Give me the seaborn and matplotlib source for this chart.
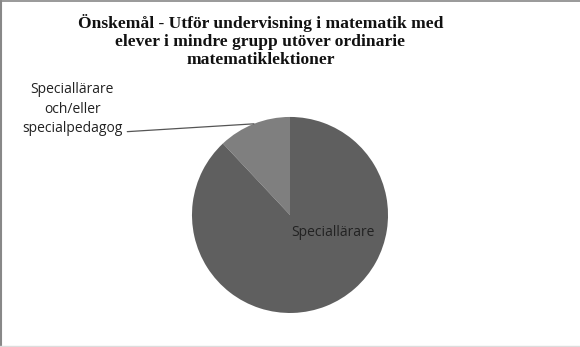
import numpy as np
import matplotlib
matplotlib.use("Agg")
import matplotlib.pyplot as plt
import seaborn as sns

# Share of answers per category
categories = ["Speciallärare och/eller\nspecialpedagog", "Speciallärare"]
values = [12, 88]
colors = ["#7f7f7f", "#5f5f5f"]
title = "Önskemål - Utför undervisning i matematik med\nelever i mindre grupp utöver ordinarie\nmatematiklektioner"

sns.set_theme(style="white")
plt.rcParams["font.family"] = ["Open Sans", "DejaVu Sans"]

fig = plt.figure(figsize=(5.8, 3.47), dpi=100)
fig.patch.set_facecolor("white")

ax = fig.add_axes([0.331, 0.098, 0.338, 0.565])
wedges, _ = ax.pie(values, colors=colors, startangle=90, counterclock=True,
                   radius=1.0, wedgeprops=dict(linewidth=0))
ax.set_xlim(-1, 1)
ax.set_ylim(-1, 1)
ax.set_aspect("equal")
ax.axis("off")

# Label inside the large wedge
ax.text(0.44, -0.18, "Speciallärare", ha="center", va="center",
        fontsize=10, color="#222222")

# Outside label with leader line for the small wedge
w = wedges[0]
mid = np.deg2rad((w.theta1 + w.theta2) / 2)
edge = (np.cos(mid), np.sin(mid))
anchor = (-1.66, 0.85)
ax.plot([anchor[0], edge[0]], [anchor[1], edge[1]], color="#555555",
        linewidth=0.9, clip_on=False)
ax.text(-2.22, 1.08, "Speciallärare\noch/eller\nspecialpedagog", ha="center",
        va="center", fontsize=10, color="#222222", linespacing=1.4)

fig.text(0.449, 0.882, title, ha="center", va="center", fontsize=12.6,
         fontweight="bold", family=["Liberation Serif"], linespacing=1.13,
         color="#111111")

# Chart frame
fig.add_artist(plt.Line2D([0.002, 0.002], [0, 0.997], transform=fig.transFigure,
                          color="#888888", linewidth=1.5))
fig.add_artist(plt.Line2D([0, 1], [0.997, 0.997], transform=fig.transFigure,
                          color="#888888", linewidth=1.2))
fig.add_artist(plt.Line2D([0, 1], [0.003, 0.003], transform=fig.transFigure,
                          color="#dddddd", linewidth=1.0))

fig.savefig("out.png", dpi=100, facecolor="white")
